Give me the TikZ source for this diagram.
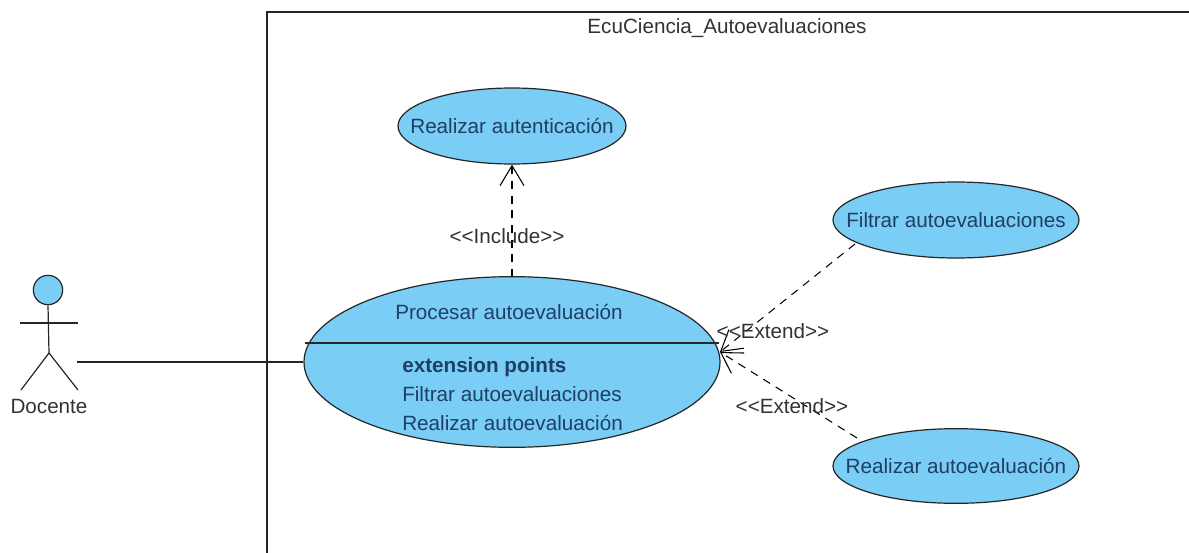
\documentclass[tikz,border=0pt]{standalone}
\usepackage{fontspec}
\setmainfont{Liberation Sans}
\usetikzlibrary{arrows.meta,shapes.geometric}
\definecolor{ucfill}{HTML}{7ACDF4}
\definecolor{uctext}{HTML}{1E3F66}
\tikzset{
 x=0.75pt,y=-0.75pt,
 uc/.style={ellipse,draw=black!85,fill=ucfill,line width=0.9pt,inner sep=0pt,text=black},
 lbl/.style={font=\fontsize{15.5pt}{17pt}\selectfont,text=black!80,inner sep=0pt},
 inlbl/.style={lbl,text=uctext},
 dep/.style={dash pattern=on 6pt off 5pt,line width=0.8pt,-{Straight Barb[length=15pt,width=18pt,line width=0.8pt]}},
 line/.style={line width=0.9pt,draw=black!85},
}
\begin{document}
\begin{tikzpicture}
\useasboundingbox (0,0) rectangle (1189,553);
\fill[white] (0,0) rectangle (1189,553);
\draw[line] (267,553) -- (267,12) -- (1189,12);
\node[lbl] (title) at (727,28) {EcuCiencia\_Autoevaluaciones};
\node[uc,minimum width=171pt,minimum height=57pt] (auth) at (512,126) {};
\node[inlbl] (authl) at (auth) {Realizar autenticación};
\node[uc,minimum width=184.5pt,minimum height=57pt] (filt) at (956,220) {};
\node[inlbl] (filtl) at (filt) {Filtrar autoevaluaciones};
\node[uc,minimum width=184.5pt,minimum height=56pt] (real) at (956,466) {};
\node[inlbl] (reall) at (real) {Realizar autoevaluación};
\node[uc,minimum width=312pt,minimum height=128pt] (proc) at (512,362) {};
\draw[line] (305,343) -- (719,343);
\node[inlbl] (pl) at (509,312) {Procesar autoevaluación};
\node[inlbl,anchor=west] (ep) at (402,367) {\bfseries extension points};
\node[inlbl,anchor=west] (e1) at (402,394) {Filtrar autoevaluaciones};
\node[inlbl,anchor=west] (e2) at (402,423) {Realizar autoevaluación};
\coordinate (inc) at (512,277);
\draw[dep] (inc) -- (auth.south);
\node[lbl] (il) at (507,236) {{<}{<}Include{>}{>}};
\coordinate (fs) at (855,244);
\coordinate (rs) at (857,438);
\coordinate (pe) at (720,352);
\draw[dep] (fs) -- (pe);
\draw[dep] (rs) -- (pe);
\node[lbl] (x1) at (773,331) {{<}{<}Extend{>}{>}};
\node[lbl] (x2) at (792,406) {{<}{<}Extend{>}{>}};
% actor
\node[circle,draw=black!85,fill=ucfill,line width=0.9pt,minimum size=22pt,inner sep=0pt] (head) at (48,290) {};
\coordinate (hip) at (49,353);
\draw[line] (head.south) -- (hip);
\draw[line] (20,323) -- (78,323);
\draw[line] (hip) -- (21,390);
\draw[line] (hip) -- (78,390);
\node[lbl] (doc) at (49,406) {Docente};
\coordinate (a) at (77,362);
\draw[line] (a) -- (proc.west);
\end{tikzpicture}
\end{document}
